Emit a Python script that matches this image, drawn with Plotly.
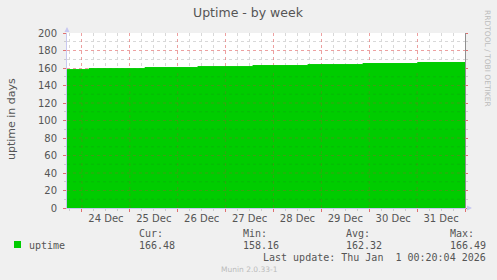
import plotly.graph_objects as go

# ---- data ----
step_times = ["2025-12-23 16:30", "2025-12-24 03:30", "2025-12-25 07:35", "2025-12-26 10:05",
              "2025-12-27 13:40", "2025-12-28 17:15", "2025-12-29 20:50", "2025-12-31 00:15",
              "2026-01-01 00:00"]
uptime_days = [158.16, 159.3, 160.5, 161.6, 162.8, 163.9, 165.1, 166.3, 166.3]
day_ticks = ["2025-12-24 12:00", "2025-12-25 12:00", "2025-12-26 12:00", "2025-12-27 12:00",
             "2025-12-28 12:00", "2025-12-29 12:00", "2025-12-30 12:00", "2025-12-31 12:00"]
day_labels = ["24 Dec", "25 Dec", "26 Dec", "27 Dec", "28 Dec", "29 Dec", "30 Dec", "31 Dec"]
midnights = ["2025-12-24", "2025-12-25", "2025-12-26", "2025-12-27", "2025-12-28",
             "2025-12-29", "2025-12-30", "2025-12-31"]
legend_name = "uptime"
stats_cur, stats_min, stats_avg, stats_max = "166.48", "158.16", "162.32", "166.49"
last_update = "Last update: Thu Jan  1 00:20:04 2026"

W, H = 497, 280
L, R, T, B = 67, 465, 33, 208
x_range = ["2025-12-23 16:30", "2026-01-01 00:00"]

def px(x):
    return (x - L) / (R - L)

def py(y):
    return (B - y) / (B - T)

GREEN = "#00CC00"
TXT = "#555555"
SANS = "DejaVu Sans"
MONO = "DejaVu Sans Mono"

fig = go.Figure()
fig.add_trace(go.Scatter(x=step_times, y=uptime_days, mode="lines", line=dict(color=GREEN, width=1, shape="hv"),
                         fill="tozeroy", fillcolor=GREEN, hoverinfo="skip", showlegend=False))
fig.add_trace(go.Scatter(x=day_ticks, y=[0]*len(day_ticks), xaxis="x2", mode="markers",
                         marker=dict(opacity=0), showlegend=False, hoverinfo="skip"))
fig.add_trace(go.Scatter(x=step_times, y=uptime_days, yaxis="y2", mode="markers",
                         marker=dict(opacity=0), showlegend=False, hoverinfo="skip"))

fig.update_layout(
    width=W, height=H,
    margin=dict(l=L, r=W - R, t=T, b=H - B),
    paper_bgcolor="#F0F0F0", plot_bgcolor="#FFFFFF",
    font=dict(family=SANS, size=10, color=TXT),
    xaxis=dict(type="date", range=x_range, dtick=86400000, tick0="2025-12-24",
               showticklabels=False, showgrid=True, gridcolor="rgba(230,120,120,0.7)", griddash="dot", gridwidth=1,
               ticks="outside", ticklen=3, tickcolor="#E07070",
               minor=dict(dtick=21600000, showgrid=True, gridcolor="#D8D8D8", griddash="dot",
                          ticks="outside", ticklen=2, tickcolor="#CCCCCC"),
               showline=True, linecolor="#C8C8F0", linewidth=1, zeroline=False),
    xaxis2=dict(type="date", range=x_range, overlaying="x", side="bottom", tickmode="array",
                tickvals=day_ticks, ticktext=day_labels, showgrid=False, ticks="", showline=False,
                tickfont=dict(family=SANS, size=10, color=TXT), ticklabelstandoff=3),
    yaxis=dict(range=[0, 200], dtick=20, showgrid=True, gridcolor="rgba(230,120,120,0.7)", griddash="dot",
               ticks="outside", ticklen=3, tickcolor="#E07070",
               minor=dict(dtick=10, showgrid=True, gridcolor="#D8D8D8", griddash="dot",
                          ticks="outside", ticklen=2, tickcolor="#CCCCCC"),
               showline=True, linecolor="#C8C8F0", linewidth=1, zeroline=False,
               tickfont=dict(family=SANS, size=10, color=TXT), ticklabelstandoff=4),
    yaxis2=dict(range=[0, 200], overlaying="y", side="right", dtick=20, showgrid=False,
                showticklabels=False, ticks="outside", ticklen=2, tickcolor="#E07070",
                minor=dict(dtick=10, ticks="outside", ticklen=2, tickcolor="#CCCCCC"),
                showline=True, linecolor="#909090", linewidth=1, zeroline=False),
)

# faint grid visible over the filled area
for v in range(20, 160, 20):
    fig.add_shape(type="line", xref="paper", yref="y", x0=0, x1=1, y0=v, y1=v, layer="above",
                  line=dict(color="rgba(200,60,60,0.30)", width=1, dash="dot"))
for v in range(10, 160, 20):
    fig.add_shape(type="line", xref="paper", yref="y", x0=0, x1=1, y0=v, y1=v, layer="above",
                  line=dict(color="rgba(60,60,60,0.12)", width=1, dash="dot"))
for d in midnights:
    fig.add_shape(type="line", xref="x", yref="y", x0=d, x1=d, y0=0, y1=155, layer="above",
                  line=dict(color="rgba(200,60,60,0.25)", width=1, dash="dot"))

ann = []
ann.append(dict(text="Uptime - by week", x=px(248), y=py(13), xref="paper", yref="paper", showarrow=False,
                font=dict(family=SANS, size=12.5, color=TXT), xanchor="center", yanchor="middle"))
ann.append(dict(text="uptime in days", x=px(11), y=py(119), xref="paper", yref="paper", showarrow=False,
                textangle=-90, font=dict(family=SANS, size=11, color=TXT), xanchor="center", yanchor="middle"))
ann.append(dict(text="RRDTOOL / TOBI OETIKER", x=px(488), y=py(58), xref="paper", yref="paper", showarrow=False,
                textangle=90, font=dict(family=SANS, size=7.5, color="#BBBBBB"), xanchor="center", yanchor="middle"))
ann.append(dict(x=px(67), y=py(27), ax=0, ay=6, xref="paper", yref="paper", showarrow=True, arrowhead=2,
                arrowsize=1, arrowwidth=1, arrowcolor="#C8C8F0", text=""))
ann.append(dict(x=px(472), y=py(208), ax=-6, ay=0, xref="paper", yref="paper", showarrow=True, arrowhead=2,
                arrowsize=1, arrowwidth=1, arrowcolor="#C8C8F0", text=""))

def mono(t, x, y, size=10, color=TXT):
    return dict(text=t, x=px(x), y=py(y), xref="paper", yref="paper", showarrow=False,
                font=dict(family=MONO, size=size, color=color), xanchor="left", yanchor="middle")

ann.append(mono(legend_name, 27, 245))
ann.append(mono("Cur:", 137, 233)); ann.append(mono(stats_cur, 137, 245))
ann.append(mono("Min:", 241, 233)); ann.append(mono(stats_min, 241, 245))
ann.append(mono("Avg:", 344, 233)); ann.append(mono(stats_avg, 344, 245))
ann.append(mono("Max:", 448, 233)); ann.append(mono(stats_max, 448, 245))
ann.append(mono(last_update.replace(" ", "&nbsp;"), 261, 257))
ann.append(dict(text="Munin 2.0.33-1", x=px(249), y=py(269), xref="paper", yref="paper", showarrow=False,
                font=dict(family=SANS, size=7.5, color="#BBBBBB"), xanchor="center", yanchor="middle"))
fig.update_layout(annotations=ann)
fig.add_shape(type="rect", xref="paper", yref="paper", x0=px(14), x1=px(21), y0=py(241), y1=py(248),
              fillcolor=GREEN, line=dict(width=0))

fig.write_html("out.html")
